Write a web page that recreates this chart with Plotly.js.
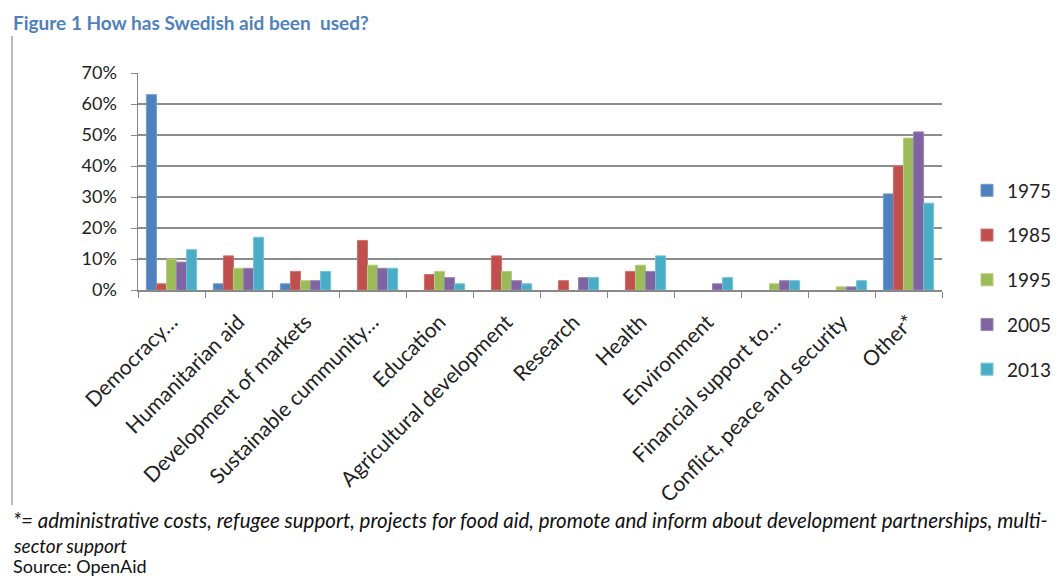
<!DOCTYPE html>
<html><head><meta charset="utf-8">
<script src="https://cdn.plot.ly/plotly-3.0.1.min.js"></script>
<style>body{margin:0;background:#fff}#c{width:1060px;height:578px}</style>
</head><body><div id="c"></div>
<script>
const categories = ["Democracy…","Humanitarian aid","Development of markets","Sustainable cummunity…","Education","Agricultural development","Research","Health","Environment","Financial support to…","Conflict, peace and security","Other*"];
const years = ["1975","1985","1995","2005","2013"];
const v1975 = [0.63,0.02,0.02,null,null,null,null,null,null,null,null,0.31];
const v1985 = [0.02,0.11,0.06,0.16,0.05,0.11,0.03,0.06,null,null,null,0.40];
const v1995 = [0.10,0.07,0.03,0.08,0.06,0.06,null,0.08,null,0.02,0.01,0.49];
const v2005 = [0.09,0.07,0.03,0.07,0.04,0.03,0.04,0.06,0.02,0.03,0.01,0.51];
const v2013 = [0.13,0.17,0.06,0.07,0.02,0.02,0.04,0.11,0.04,0.03,0.03,0.28];
const series = [v1975,v1985,v1995,v2005,v2013];
const colors = ["#4F81BD","#C0504D","#9BBB59","#8064A2","#4BACC6"];
const borders = ["#6f9bd1","#d2706d","#b2cf78","#9a83b8","#70c2d8"];

const traces = series.map((s,i)=>({
  type:"bar", name:years[i], x:categories, y:s,
  marker:{color:colors[i], line:{color:borders[i], width:1}},
  legendgroup:"g"+i
}));

const W=804, H=217, L=138, T=73;
const px = x => (x-L)/W;
const py = y => (T+H-y)/H;

const layout = {
  width:1060, height:578,
  margin:{l:138, r:118, t:73, b:288, autoexpand:false},
  paper_bgcolor:"#fff", plot_bgcolor:"#fff",
  font:{family:"Lato, 'Open Sans', sans-serif", size:15, color:"#222"},
  barmode:"group", bargap:0.25, bargroupgap:0,
  showlegend:true,
  legend:{x:px(967), xanchor:"left", y:py(280), yanchor:"middle", traceorder:"grouped", tracegroupgap:17,
          font:{size:19, color:"#222"}, bgcolor:"rgba(0,0,0,0)"},
  xaxis:{type:"category", tickangle:-45, ticks:"outside", tickson:"boundaries", ticklen:6,
         tickcolor:"#888", showline:true, linecolor:"#888", linewidth:1.5, mirror:false,
         ticklabelstandoff:10, automargin:false,
         tickfont:{size:21, color:"#222"}, showgrid:false, fixedrange:true},
  yaxis:{range:[0,0.7], dtick:0.1, tickformat:".0%", showgrid:true, gridcolor:"#8c8c8c", gridwidth:1.5,
         showline:true, linecolor:"#888", linewidth:1.5, ticks:"outside", ticklen:6, tickcolor:"#888",
         ticklabelstandoff:10, automargin:false,
         zeroline:false, tickfont:{size:18, color:"#222"}, fixedrange:true},
  shapes:[
    {type:"line", xref:"paper", yref:"paper", x0:px(12), x1:px(12), y0:py(36), y1:py(505),
     line:{color:"#777", width:1}}
  ],
  annotations:[
    {xref:"paper", yref:"paper", x:px(11), y:py(22), xanchor:"left", yanchor:"middle", showarrow:false,
     text:"<b>Figure 1 How has Swedish aid been  used?</b>", font:{size:19, color:"#4F81BD"}},
    {xref:"paper", yref:"paper", x:px(11), y:py(520), xanchor:"left", yanchor:"middle", showarrow:false,
     text:"<i>*= administrative costs, refugee support, projects for food aid, promote and inform about development partnerships, multi-</i>",
     font:{size:20.5, color:"#111"}},
    {xref:"paper", yref:"paper", x:px(11), y:py(545), xanchor:"left", yanchor:"middle", showarrow:false,
     text:"<i>sector support</i>", font:{size:19, color:"#111"}},
    {xref:"paper", yref:"paper", x:px(11), y:py(566), xanchor:"left", yanchor:"middle", showarrow:false,
     text:"Source: OpenAid", font:{size:18, color:"#111"}}
  ]
};
Plotly.newPlot("c", traces, layout, {displayModeBar:false, staticPlot:true});
</script></body></html>
